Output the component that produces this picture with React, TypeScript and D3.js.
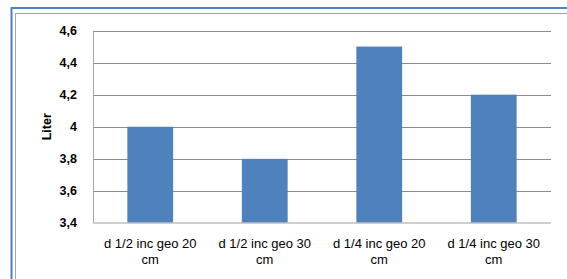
import React, { useRef, useEffect } from "react";
import * as d3 from "d3";

const categories = [
  "d 1/2 inc geo 20 cm",
  "d 1/2 inc geo 30 cm",
  "d 1/4 inc geo 20 cm",
  "d 1/4 inc geo 30 cm",
];
const values = [4.0, 3.8, 4.5, 4.2];
const yTicks = [3.4, 3.6, 3.8, 4.0, 4.2, 4.4, 4.6];
const yTitle = "Liter";

const width = 567;
const height = 279;
const margin = { top: 30.5, right: 16, bottom: 56, left: 93 };
const font = "'Liberation Sans', Arial, sans-serif";

const App = () => {
  const svgRef = useRef<SVGSVGElement>(null);

  useEffect(() => {
    const svg = d3.select(svgRef.current);
    svg.selectAll("*").remove();

    // frame
    svg
      .append("rect")
      .attr("x", 11.5)
      .attr("y", 8)
      .attr("width", width)
      .attr("height", height)
      .attr("fill", "none")
      .attr("stroke", "#4f81bd")
      .attr("stroke-width", 2);
    svg
      .append("rect")
      .attr("x", 15.5)
      .attr("y", 13.5)
      .attr("width", width)
      .attr("height", height)
      .attr("fill", "none")
      .attr("stroke", "#a6a6a6")
      .attr("stroke-width", 1);

    const xScale = d3
      .scaleBand()
      .domain(categories)
      .range([margin.left, width - margin.right])
      .paddingInner(0.6)
      .paddingOuter(0.3);

    const yScale = d3
      .scaleLinear()
      .domain([3.4, 4.6])
      .range([height - margin.bottom, margin.top]);

    const fmt = (v: number) => d3.format(".1f")(v).replace(".", ",").replace(",0", "");

    // gridlines
    svg
      .append("g")
      .selectAll("line")
      .data(yTicks.slice(1))
      .enter()
      .append("line")
      .attr("x1", margin.left)
      .attr("x2", width - margin.right)
      .attr("y1", (d) => Math.round(yScale(d)) + 0.5)
      .attr("y2", (d) => Math.round(yScale(d)) + 0.5)
      .attr("stroke", "#8c8c8c")
      .attr("stroke-width", 1);

    // bars
    svg
      .append("g")
      .selectAll("rect")
      .data(values)
      .enter()
      .append("rect")
      .attr("x", (_, i) => xScale(categories[i])!)
      .attr("width", xScale.bandwidth())
      .attr("y", (d) => yScale(d))
      .attr("height", (d) => yScale(3.4) - yScale(d))
      .attr("fill", "#4f81bd");

    // axes lines
    svg
      .append("line")
      .attr("x1", margin.left + 0.5)
      .attr("x2", margin.left + 0.5)
      .attr("y1", margin.top)
      .attr("y2", yScale(3.4))
      .attr("stroke", "#a6a6a6");
    svg
      .append("line")
      .attr("x1", margin.left)
      .attr("x2", width - margin.right)
      .attr("y1", yScale(3.4))
      .attr("y2", yScale(3.4))
      .attr("stroke", "#bfbfbf")
      .attr("stroke-width", 1.5);

    // y tick labels
    svg
      .append("g")
      .selectAll("text")
      .data(yTicks)
      .enter()
      .append("text")
      .attr("x", 77)
      .attr("y", (d) => yScale(d))
      .attr("dy", "0.35em")
      .attr("text-anchor", "end")
      .style("font-family", font)
      .style("font-size", "12.5px")
      .style("font-weight", "bold")
      .style("fill", "#000")
      .text(fmt);

    // y title
    svg
      .append("text")
      .attr("transform", `translate(51, ${yScale(4.0)}) rotate(-90)`)
      .attr("text-anchor", "middle")
      .style("font-family", font)
      .style("font-size", "12.5px")
      .style("font-weight", "bold")
      .text(yTitle);

    // x labels (two lines)
    const xl = svg
      .append("g")
      .selectAll("text")
      .data(categories)
      .enter()
      .append("text")
      .attr("text-anchor", "middle")
      .style("font-family", font)
      .style("font-size", "13px")
      .style("fill", "#000");
    xl.each(function (d) {
      const cx = xScale(d)! + xScale.bandwidth() / 2;
      const idx = d.lastIndexOf(" ");
      const t = d3.select(this);
      t.append("tspan").attr("x", cx).attr("y", 248).text(d.slice(0, idx));
      t.append("tspan").attr("x", cx).attr("y", 264).text(d.slice(idx + 1));
    });
  }, []);

  return (
    <svg
      ref={svgRef}
      width={width}
      height={height}
      style={{ position: "absolute", left: 0, top: 0, background: "#fff" }}
    />
  );
};

export default App;
